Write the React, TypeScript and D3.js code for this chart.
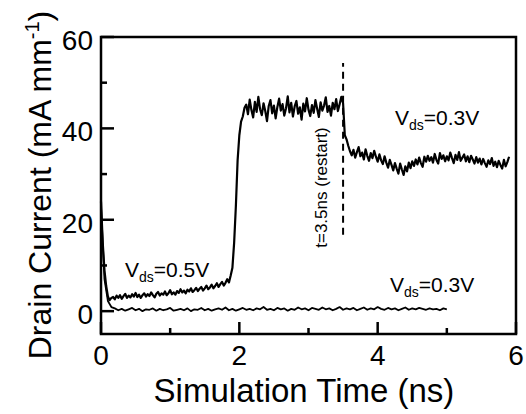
import React from "react";
import * as d3 from "d3";

// ---- data ----
const DT1 = 0.025; // ns, sample spacing of the Vds=0.5V -> 0.3V (restart) trace
const restartTrace: number[] = [
  24, 15, 9, 5.5, 3.2, 2.4, 2.9,
  3.1, 2.6, 3.4, 2.9, 3.5, 2.7, 3.3, 3.8, 2.9, 3.4,
  3.0, 3.7, 3.2, 4.0, 3.1, 3.6, 2.9, 3.5, 3.9, 3.2,
  3.7, 3.3, 4.1, 3.5, 3.0, 3.8, 4.2, 3.4, 3.9, 3.6,
  4.3, 3.5, 3.9, 4.6, 3.7, 4.1, 3.6, 4.4, 4.0, 4.8,
  4.1, 4.5, 3.9, 4.7, 4.3, 5.0, 4.2, 4.6, 5.1, 4.4,
  4.9, 5.3, 4.5, 5.0, 5.6, 4.8, 5.2, 5.8, 5.0, 5.5,
  6.1, 5.3, 5.9, 6.4, 5.6, 6.2, 7.0, 6.3,
  7.8, 9.5, 15, 23, 33, 38.5, 41.5, 42.6, 44.5,
  45.2, 43.1, 46.3, 44.0, 42.4, 45.8, 43.6, 46.9, 44.2, 42.9,
  45.5, 43.8, 41.6, 44.9, 46.2, 43.3, 45.0, 42.2, 44.7, 46.5,
  43.9, 45.3, 42.8, 44.4, 47.0, 43.5, 45.6, 42.6, 44.8, 46.0,
  43.2, 44.6, 41.9, 45.4, 43.7, 46.6, 44.1, 42.7, 45.1, 43.4,
  46.2, 44.3, 42.5, 45.7, 43.9, 45.0, 46.8, 43.6, 44.9, 42.8,
  45.6, 44.2, 46.4, 43.8, 45.3, 46.9,
  45.5,
  38.5, 37.6, 36.2, 35.0, 34.1, 35.3, 33.6, 34.8, 35.9, 33.9,
  34.7, 33.2, 35.4, 34.0, 32.9, 34.6, 33.5, 35.1, 33.8, 32.7,
  34.3, 33.0, 32.2, 33.9, 32.5, 31.4, 33.1, 32.0, 30.8, 32.4,
  31.2, 30.1, 32.3, 31.0, 29.8, 31.7, 30.6, 32.5, 31.3, 32.8,
  31.8, 33.2, 32.1, 33.6, 32.4, 31.6, 33.8, 32.7, 34.0, 32.9,
  33.7, 32.5, 34.4, 33.1, 32.3, 34.6, 33.3, 34.1, 32.8, 33.9,
  33.0, 34.7, 33.5, 32.4, 34.2, 33.1, 34.8, 32.9, 33.6, 34.3,
  32.8, 33.9, 32.6, 34.0, 33.2, 32.3, 33.7, 32.5, 33.4, 32.1,
  33.3, 32.4, 31.6, 33.0, 32.2, 33.5, 31.8, 32.7, 31.5, 32.9,
  32.0, 31.2, 33.1, 31.7, 32.6, 33.8,
];

const DT2 = 0.05; // ns, sample spacing of the constant Vds=0.3V trace
const steadyTrace: number[] = [
  23, 7, 2.2, 0.9,
  0.6, 0.2, 0.5, 0.1, 0.4, 0.7, 0.2, 0.5, 0.0, 0.4,
  0.3, 0.6, 0.1, 0.5, 0.2, 0.4, 0.7, 0.1, 0.3, 0.5,
  0.2, 0.6, 0.0, 0.4, 0.3, 0.7, 0.2, 0.5, 0.1, 0.4,
  0.6, 0.3, 0.8, 0.2, 0.5, 0.1, 0.4, 0.7, 0.3, 0.5,
  0.2, 0.6, 0.4, 0.9, 0.3, 0.5, 0.2, 0.7, 0.4, 0.6,
  0.1, 0.5, 0.3, 0.8, 0.4, 0.6, 0.2, 0.7, 0.5, 0.3,
  0.8, 0.4, 0.6, 0.2, 0.5, 0.9, 0.3, 0.6, 0.4, 0.7,
  0.2, 0.5, 0.8, 0.3, 0.6, 0.4, 0.9, 0.5, 0.3, 0.7,
  0.4, 0.6, 0.2, 0.5, 0.8, 0.3, 0.6, 0.4, 0.7, 0.5,
  0.3, 0.6, 0.4, 0.5, 0.2, 0.6, 0.4,
];

const xMajorTicks = [0, 2, 4, 6];
const xMinorTicks = [1, 3, 5];
const yMajorTicks = [0, 20, 40, 60];
const yMinorTicks = [10, 30, 50];
const restartTime = 3.5;
const restartMarkerRange = [16.7, 54.3];

const FONT = "'Liberation Sans', Arial, Helvetica, sans-serif";

export default function App() {
  const W = 526, H = 414;
  const x = d3.scaleLinear().domain([0, 6]).range([101, 516]);
  const y = d3.scaleLinear().domain([-5, 60]).range([334, 37]);

  const line = d3
    .line<[number, number]>()
    .x((d) => x(d[0]))
    .y((d) => y(d[1]));

  const p1: [number, number][] = restartTrace.map((v, i) => [i * DT1, v]);
  const p2: [number, number][] = steadyTrace.map((v, i) => [i * DT2, v]);

  const [x0, x1] = x.range();
  const [yb, yt] = y.range();

  return (
    <svg
      width={W}
      height={H}
      style={{ position: "absolute", left: 0, top: 0, background: "#fff" }}
      fontFamily={FONT}
    >
      {/* data */}
      <path d={line(p2) || ""} fill="none" stroke="#000" strokeWidth={1.8} strokeLinejoin="round" />
      <path d={line(p1) || ""} fill="none" stroke="#000" strokeWidth={2.2} strokeLinejoin="round" />

      {/* restart marker */}
      <line
        x1={x(restartTime)}
        x2={x(restartTime)}
        y1={y(restartMarkerRange[0])}
        y2={y(restartMarkerRange[1])}
        stroke="#000"
        strokeWidth={2}
        strokeDasharray="7 5"
      />

      {/* frame */}
      <rect x={x0} y={yt} width={x1 - x0} height={yb - yt} fill="none" stroke="#000" strokeWidth={2.5} />

      {/* x ticks */}
      {xMajorTicks.map((t) => (
        <g key={"xm" + t}>
          <line x1={x(t)} x2={x(t)} y1={yb} y2={yb - 12} stroke="#000" strokeWidth={2.5} />
          <text x={x(t)} y={365} fontSize={28} textAnchor="middle">
            {t}
          </text>
        </g>
      ))}
      {xMinorTicks.map((t) => (
        <line key={"xn" + t} x1={x(t)} x2={x(t)} y1={yb} y2={yb - 6} stroke="#000" strokeWidth={2.5} />
      ))}

      {/* y ticks */}
      {yMajorTicks.map((t) => (
        <g key={"ym" + t}>
          <line x1={x0} x2={x0 + 13} y1={y(t)} y2={y(t)} stroke="#000" strokeWidth={2.5} />
          <text x={93} y={y(t) + 13} fontSize={28} textAnchor="end">
            {t}
          </text>
        </g>
      ))}
      {yMinorTicks.map((t) => (
        <line key={"yn" + t} x1={x0} x2={x0 + 6} y1={y(t)} y2={y(t)} stroke="#000" strokeWidth={2.5} />
      ))}

      {/* axis titles */}
      <text x={304} y={402} fontSize={33} textAnchor="middle">
        Simulation Time (ns)
      </text>
      <text transform="translate(51,185) rotate(-90)" fontSize={32} textAnchor="middle">
        Drain Current (mA mm
        <tspan fontSize={20} dy={-12}>-1</tspan>
        <tspan dy={12}>)</tspan>
      </text>

      {/* annotations */}
      <text x={125} y={277} fontSize={21}>
        V<tspan fontSize={14} dy={5}>ds</tspan>
        <tspan dy={-5}>=0.5V</tspan>
      </text>
      <text x={395} y={125} fontSize={21}>
        V<tspan fontSize={14} dy={5}>ds</tspan>
        <tspan dy={-5}>=0.3V</tspan>
      </text>
      <text x={390} y={292} fontSize={21}>
        V<tspan fontSize={14} dy={5}>ds</tspan>
        <tspan dy={-5}>=0.3V</tspan>
      </text>
      <text transform="translate(326.5,187.5) rotate(-90)" fontSize={17} textAnchor="middle">
        t=3.5ns (restart)
      </text>
    </svg>
  );
}
